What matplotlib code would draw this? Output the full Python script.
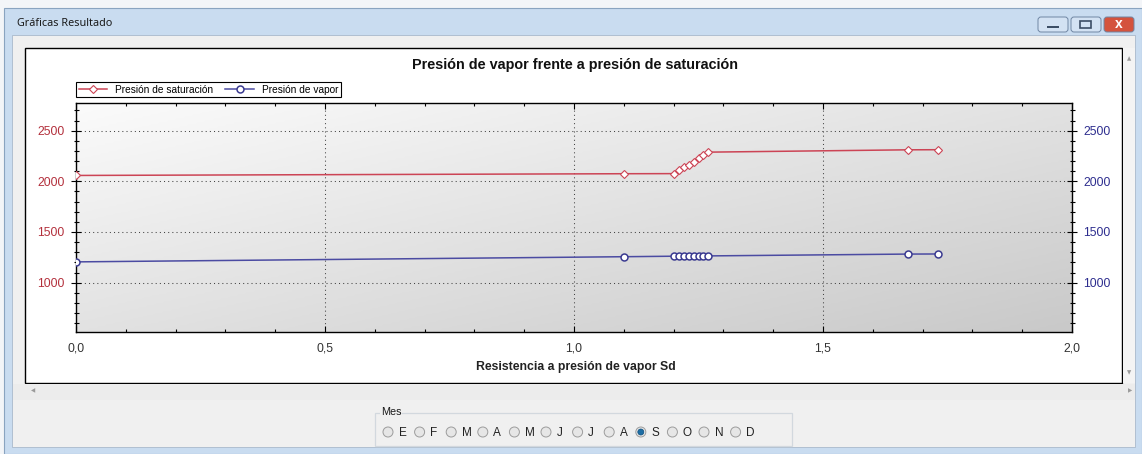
import numpy as np
import matplotlib.pyplot as plt
from matplotlib.patches import Rectangle, Circle, FancyBboxPatch
from matplotlib.colors import LinearSegmentedColormap
from matplotlib.ticker import MultipleLocator, FuncFormatter

# datos
sd = [0.0, 1.10, 1.20, 1.21, 1.22, 1.23, 1.24, 1.25, 1.26, 1.27, 1.67, 1.73]
p_sat = [2058, 2075, 2076, 2108, 2140, 2166, 2193, 2226, 2258, 2288, 2311, 2312]
p_vap = [1205, 1256, 1261, 1261, 1262, 1262, 1263, 1263, 1264, 1264, 1282, 1283]

meses = ["E", "F", "M", "A", "M", "J", "J", "A", "S", "O", "N", "D"]
mes_sel = 8  # S

plt.rcParams['font.family'] = ['Liberation Sans', 'DejaVu Sans']

W, H = 1142, 454
fig = plt.figure(figsize=(W / 100, H / 100), dpi=100)

# ---- ventana (coordenadas en pixeles) ----
bg = fig.add_axes([0, 0, 1, 1], zorder=0)
bg.set_xlim(0, W)
bg.set_ylim(H, 0)
bg.axis('off')

bg.add_patch(Rectangle((0, 0), W, H, fc='#f3f5f8', ec='none'))
bg.add_patch(Rectangle((4, 8), W - 4, H - 8, fc='#c9dcf0', ec='#8aa4c0', lw=0.8))
bg.add_patch(Rectangle((12, 35), 1123, 412, fc='#f0f0f0', ec='#a9b9cc', lw=0.6))
bg.text(17, 23, "Gráficas Resultado", fontsize=7.8, va='center', ha='left',
        color='#1a1a1a', family=['Noto Sans', 'DejaVu Sans'])

# botones de la ventana
for x0, fc in [(1038, '#d3e2f3'), (1071, '#d3e2f3'), (1104, '#d4533d')]:
    bg.add_patch(FancyBboxPatch((x0, 17), 30, 15, boxstyle='round,pad=0,rounding_size=3',
                                fc=fc, ec='#6f86a3', lw=0.7))
bg.add_patch(Rectangle((1047, 26), 12, 2, fc='#3c4e66', ec='none'))
bg.add_patch(Rectangle((1080, 21), 11, 7, fc='none', ec='#3c4e66', lw=1.2))
bg.text(1119, 24.5, "x", fontsize=10, weight='bold', color='white', ha='center', va='center')

# panel blanco del grafico
bg.add_patch(Rectangle((25, 48), 1097, 335, fc='white', ec='black', lw=1.0))
bg.add_patch(Rectangle((1123, 48), 12, 335, fc='#f4f4f4', ec='none'))
bg.text(1129, 59, "▲", fontsize=4, color='#9a9a9a', ha='center', va='center', family='DejaVu Sans')
bg.text(1129, 373, "▼", fontsize=4, color='#9a9a9a', ha='center', va='center', family='DejaVu Sans')
bg.add_patch(Rectangle((13, 384), 1122, 16, fc='#ececec', ec='none'))
bg.text(33, 391, "◀", fontsize=4, color='#9a9a9a', ha='center', va='center', family='DejaVu Sans')
bg.text(1130, 391, "▶", fontsize=4, color='#9a9a9a', ha='center', va='center', family='DejaVu Sans')

# grupo de radio botones "Mes"
bg.add_patch(Rectangle((375, 413), 417, 33, fc='none', ec='#d2d8de', lw=0.9))
bg.text(381, 412, "Mes", fontsize=7.8, ha='left', va='center', color='#1a1a1a',
        bbox=dict(fc='#f0f0f0', ec='none', pad=0.5))
for i, m in enumerate(meses):
    cx = 388 + i * 31.6
    bg.add_patch(Circle((cx, 432), 5, fc='#e6e6e6', ec='#9c9c9c', lw=0.7))
    if i == mes_sel:
        bg.add_patch(Circle((cx, 432), 3, fc='#1d6ea5', ec='#0f4f7e', lw=0.5))
    bg.text(cx + 10.5, 432.5, m, fontsize=8.5, ha='left', va='center', color='#222222')

# ---- grafico ----
ax = fig.add_axes([76 / W, 1 - 332 / H, 996 / W, 229 / H], zorder=2)

cmap = LinearSegmentedColormap.from_list('fondo', ['#fbfbfb', '#c9c9c9'])
yy, xx = np.mgrid[0:1:120j, 0:1:240j]
ax.imshow(0.5 * xx + 0.5 * yy, cmap=cmap, vmin=0, vmax=1, aspect='auto',
          extent=[0, 1, 0, 1], transform=ax.transAxes, origin='upper', zorder=0)

rojo = '#cc4455'
azul = '#4b4ba2'
ax.plot(sd, p_sat, color=rojo, lw=1.1, marker='D', ms=4, mfc='white', mec=rojo,
        mew=0.8, label='Presión de saturación', zorder=3)
ax.plot(sd, p_vap, color=azul, lw=1.1, marker='o', ms=5, mfc='white', mec='#3a3a90',
        mew=1.1, label='Presión de vapor', zorder=3)

ax.set_xlim(0, 2.0)
ax.set_ylim(513, 2773)
ax.xaxis.set_major_locator(MultipleLocator(0.5))
ax.xaxis.set_minor_locator(MultipleLocator(0.1))
ax.yaxis.set_major_locator(MultipleLocator(500))
ax.yaxis.set_minor_locator(MultipleLocator(100))
ax.xaxis.set_major_formatter(FuncFormatter(lambda v, p: f"{v:.1f}".replace('.', ',')))

ax.grid(True, which='major', color='#444444', lw=0.75, ls=(0, (1, 3)), zorder=1)
ax.tick_params(axis='x', which='both', direction='in', top=True, labelsize=8.8,
               labelcolor='#333333', pad=7.5)
ax.tick_params(axis='x', which='major', length=4.5, width=0.8)
ax.tick_params(axis='x', which='minor', length=2.5, width=0.8)
ax.tick_params(axis='y', which='both', direction='inout', labelsize=8.8,
               labelcolor='#b3303c', pad=5)
ax.tick_params(axis='y', which='major', length=6.5, width=0.8)
ax.tick_params(axis='y', which='minor', length=3.6, width=0.8)
for s in ax.spines.values():
    s.set_linewidth(1.0)

ax2 = ax.twinx()
ax2.set_ylim(ax.get_ylim())
ax2.yaxis.set_major_locator(MultipleLocator(500))
ax2.yaxis.set_minor_locator(MultipleLocator(100))
ax2.tick_params(axis='y', which='both', direction='inout', labelsize=8.8,
                labelcolor='#2d2d8e', pad=5)
ax2.tick_params(axis='y', which='major', length=6.5, width=0.8)
ax2.tick_params(axis='y', which='minor', length=3.6, width=0.8)
for s in ax2.spines.values():
    s.set_visible(False)

leg = ax.legend(loc='lower left', bbox_to_anchor=(0, 1.026), borderaxespad=0, ncol=2,
                fontsize=7.3, frameon=True, fancybox=False, edgecolor='black', framealpha=1,
                borderpad=0.25, handlelength=2.8, handletextpad=0.8, columnspacing=1.2)
leg.get_frame().set_linewidth(0.8)

bg.text(574.5, 65, "Presión de vapor frente a presión de saturación", fontsize=10.4,
        weight='bold', ha='center', va='center', color='#111111')
bg.text(575.5, 367, "Resistencia a presión de vapor Sd", fontsize=8.8, weight='bold',
        ha='center', va='center', color='#222222')

fig.savefig('out.png', dpi=100)
